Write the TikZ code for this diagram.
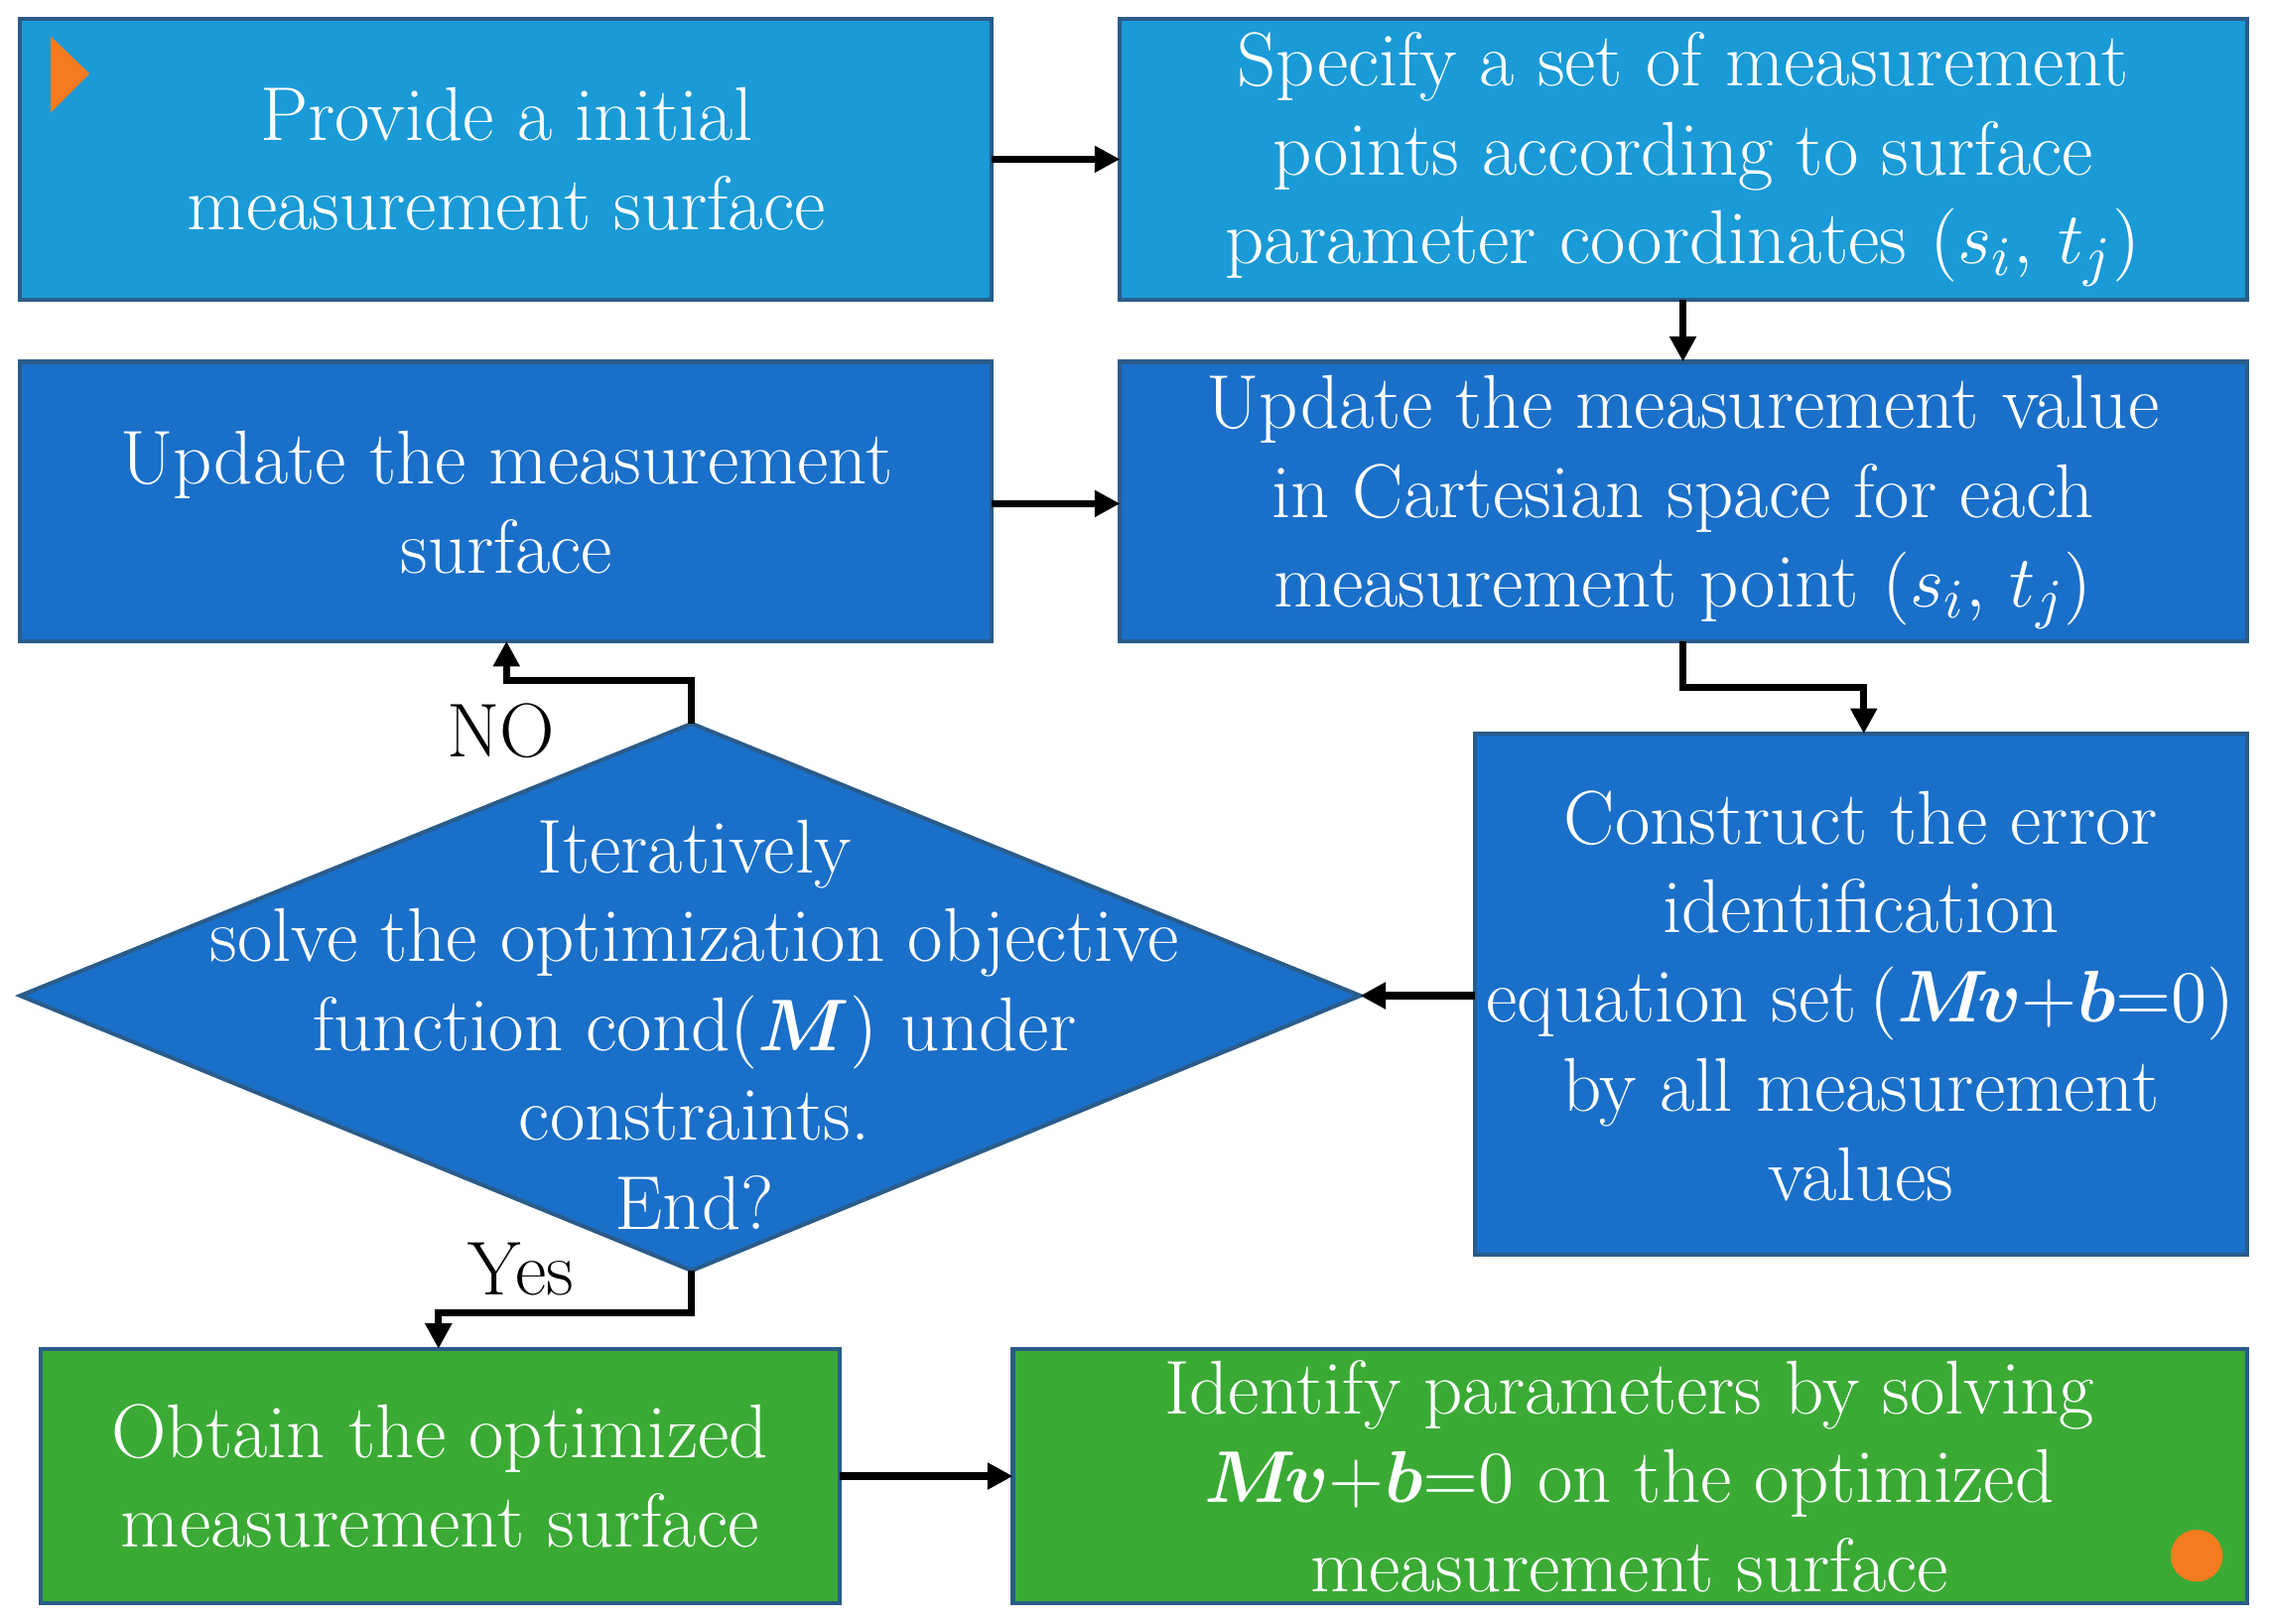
\documentclass[tikz,border=0pt]{standalone}
\usepackage{amsmath}
\usetikzlibrary{arrows.meta}
\definecolor{lb}{HTML}{1A9AD6}
\definecolor{db}{HTML}{1A6FC9}
\definecolor{gr}{HTML}{3AAA35}
\definecolor{bd}{HTML}{2A5C8A}
\definecolor{or}{HTML}{F47B20}
\begin{document}
\begin{tikzpicture}[x=0.01cm,y=-0.01cm,
  txt/.style={text=white,font=\fontsize{15}{17.5}\selectfont,align=center},
  arr/.style={-{Triangle[length=5pt,width=5pt]},line width=1.4pt,black}]
\useasboundingbox (0,0) rectangle (1568,1122);
\newcommand\bx[6]{\fill[#6,draw=bd,line width=0.8pt] (#2,#3) rectangle (#4,#5); \node[txt] (#1) at ({(#2+#4)/2},{(#3+#5)/2}) {};}
\bx{A}{14}{13}{685}{207}{lb}
\bx{B}{774}{13}{1553}{207}{lb}
\bx{C}{14}{250}{685}{443}{db}
\bx{D}{774}{250}{1553}{443}{db}
\bx{E}{1019}{507}{1553}{867}{db}
\bx{F}{28}{932}{580}{1108}{gr}
\bx{G}{700}{932}{1553}{1108}{gr}
\fill[db,draw=bd,line width=0.8pt] (14,688)--(478,500)--(940,688)--(478,878)--cycle;
\node[txt] at (350,110) {Provide a initial\\measurement surface};
\node[txt] at (1163,110) {Specify a set of measurement\\points according to surface\\parameter coordinates $(s_i,\,t_j)$};
\node[txt] at (350,347) {Update the measurement\\surface};
\node[txt] at (1163,347) {Update the measurement value\\in Cartesian space for each\\measurement point $(s_i,\,t_j)$};
\node[txt] at (1286,688) {Construct the error\\identification\\equation set\,$(\boldsymbol{M}\!\boldsymbol{v}{+}\boldsymbol{b}{=}0)$\\by all measurement\\values};
\node[txt] at (480,708) {Iteratively\\solve the optimization objective\\function cond$(\boldsymbol{M})$ under\\constraints.\\End?};
\node[txt] at (304,1020) {Obtain the optimized\\measurement surface};
\node[txt] at (1126,1020) {Identify parameters by solving\\$\boldsymbol{M}\!\boldsymbol{v}{+}\boldsymbol{b}{=}0$ on the optimized\\measurement surface};
\fill[or] (35,25)--(62,51)--(35,78)--cycle;
\fill[or] (1518,1075) circle (18);
\coordinate (dt) at (478,500); \coordinate (db) at (478,878);
\coordinate (dr) at (940,688);
\draw[arr] (685,110) -- (774,110);
\draw[arr] (1163,207) -- (1163,250);
\draw[arr] (685,348) -- (774,348);
\draw[arr] (1163,443) -- (1163,475) -- (1288,475) -- (1288,507);
\draw[arr] (1019,688) -- (dr);
\draw[arr] (dt) -- (478,470) -- (350,470) -- (350,443);
\draw[arr] (db) -- (478,907) -- (303,907) -- (303,932);
\draw[arr] (580,1020) -- (700,1020);
\node[font=\fontsize{15}{17}\selectfont] (no) at (346,505) {NO};
\node[font=\fontsize{15}{17}\selectfont] (yes) at (360,877) {Yes};
\end{tikzpicture}
\end{document}
